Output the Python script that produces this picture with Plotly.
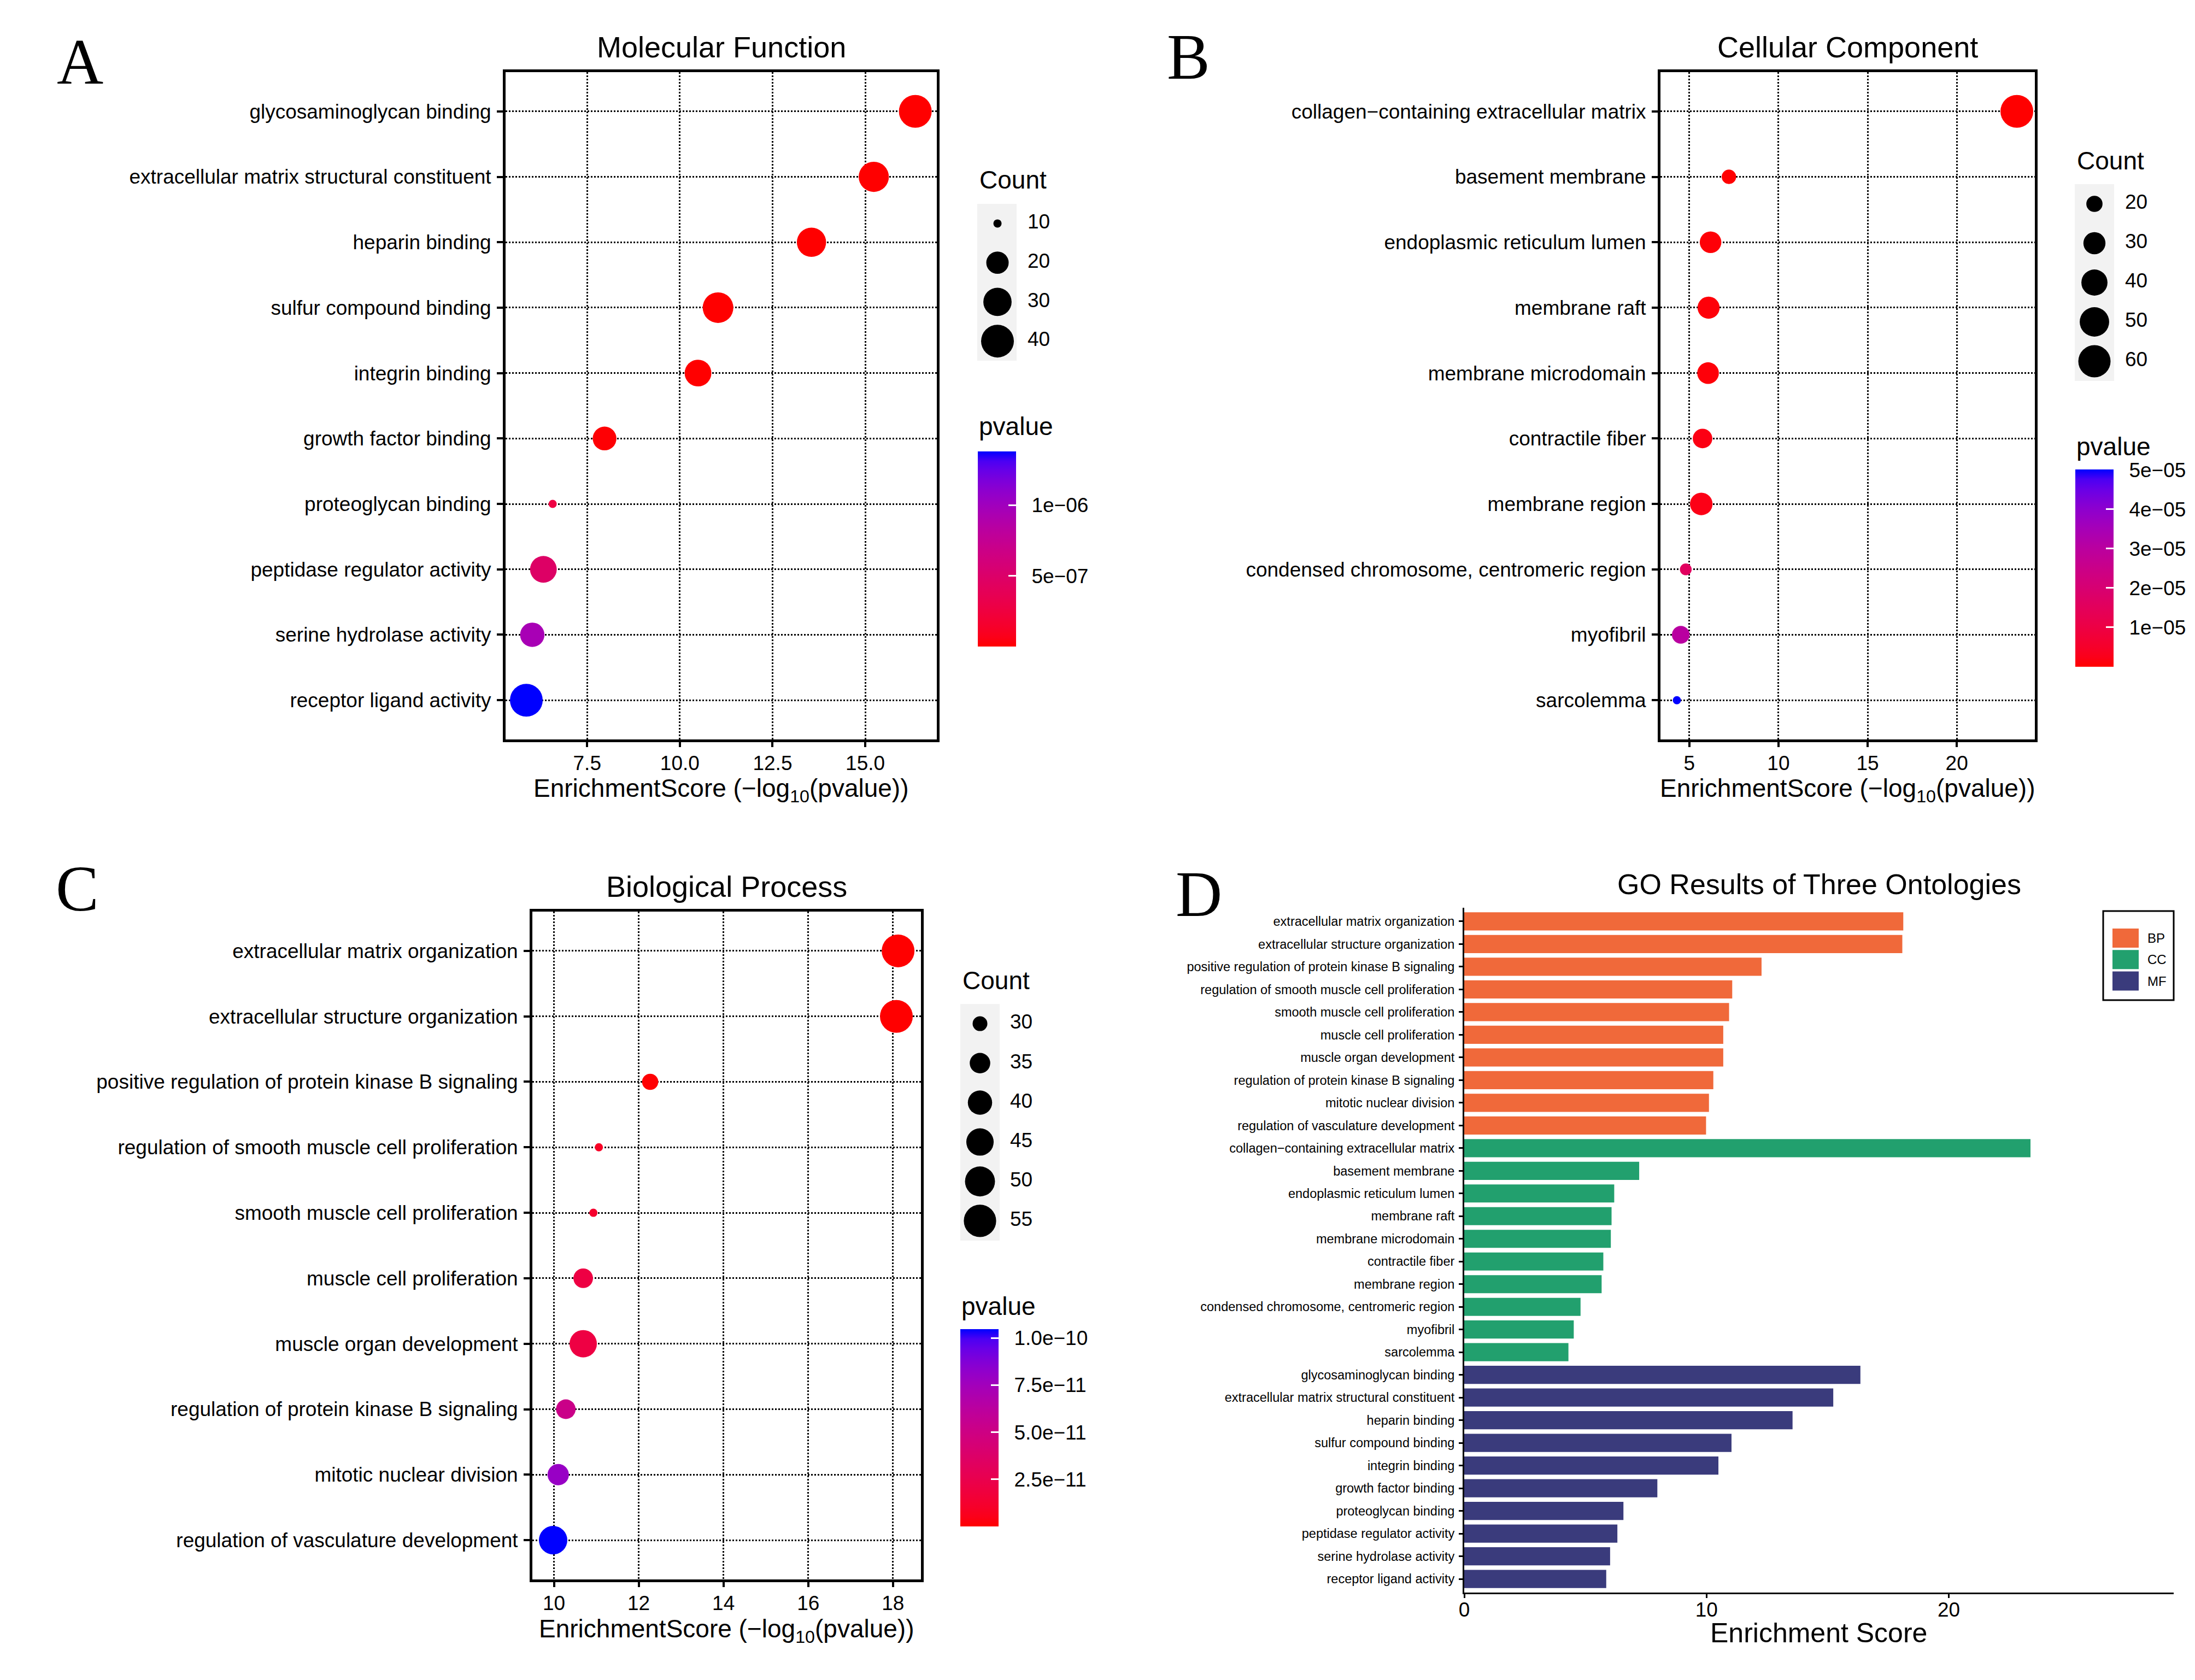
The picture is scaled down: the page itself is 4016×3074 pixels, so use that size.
import numpy as np
import plotly.graph_objects as go

# ---- data ----------------------------------------------------------------
mf_terms = ["glycosaminoglycan binding", "extracellular matrix structural constituent",
            "heparin binding", "sulfur compound binding", "integrin binding",
            "growth factor binding", "proteoglycan binding", "peptidase regulator activity",
            "serine hydrolase activity", "receptor ligand activity"]
mf_score = [16.35, 15.23, 13.55, 11.03, 10.49, 7.97, 6.57, 6.32, 6.02, 5.86]
mf_count = [40, 34, 32, 35, 27, 22, 10, 27, 23, 40]

cc_terms = ["collagen\u2212containing extracellular matrix", "basement membrane",
            "endoplasmic reticulum lumen", "membrane raft", "membrane microdomain",
            "contractile fiber", "membrane region", "condensed chromosome, centromeric region",
            "myofibril", "sarcolemma"]
cc_score = [23.37, 7.22, 6.19, 6.08, 6.05, 5.74, 5.67, 4.80, 4.52, 4.30]
cc_count = [62, 18, 29, 30, 29, 25, 31, 16, 22, 15]

bp_terms = ["extracellular matrix organization", "extracellular structure organization",
            "positive regulation of protein kinase B signaling",
            "regulation of smooth muscle cell proliferation", "smooth muscle cell proliferation",
            "muscle cell proliferation", "muscle organ development",
            "regulation of protein kinase B signaling", "mitotic nuclear division",
            "regulation of vasculature development"]
bp_score = [18.12, 18.08, 12.27, 11.06, 10.93, 10.69, 10.69, 10.28, 10.10, 9.98]
bp_count = [56, 56, 31, 28, 28, 34, 45, 34, 36, 47]

# legend breaks / tick labels
mf_size_breaks = [10, 20, 30, 40]
cc_size_breaks = [20, 30, 40, 50, 60]
bp_size_breaks = [30, 35, 40, 45, 50, 55]

mf_p_ticks = [5e-7, 1e-6]
mf_p_labels = ["5e\u221207", "1e\u221206"]
cc_p_ticks = [1e-5, 2e-5, 3e-5, 4e-5, 5e-5]
cc_p_labels = ["1e\u221205", "2e\u221205", "3e\u221205", "4e\u221205", "5e\u221205"]
bp_p_ticks = [2.5e-11, 5e-11, 7.5e-11, 1e-10]
bp_p_labels = ["2.5e\u221211", "5.0e\u221211", "7.5e\u221211", "1.0e\u221210"]

mf_xticks = [7.5, 10, 12.5, 15]
mf_xlabels = ["7.5", "10.0", "12.5", "15.0"]
cc_xticks = [5, 10, 15, 20]
bp_xticks = [10, 12, 14, 16, 18]
go_xticks = [0, 10, 20]

ontologies = ["BP", "CC", "MF"]
onto_colors = {"BP": "#F0693A", "CC": "#22A06E", "MF": "#3A3B7C"}

# ---- helpers ---------------------------------------------------------------
W, H = 4016, 3074
SANS = "Liberation Sans, Arial, Helvetica, sans-serif"
SERIF = "Liberation Serif, Times New Roman, serif"
NB = "\u00a0\u00a0"  # gap between colour bar and its labels


def fx(p):
    return p / W


def fy(p):
    return 1 - p / H


M = np.array([[0.4124564, 0.3575761, 0.1804375],
              [0.2126729, 0.7151522, 0.0721750],
              [0.0193339, 0.1191920, 0.9503041]])
WHITE = np.array([0.95047, 1.0, 1.08883])


def to_lab(rgb):
    c = np.array(rgb) / 255.0
    lin = np.where(c <= 0.04045, c / 12.92, ((c + 0.055) / 1.055) ** 2.4)
    xyz = M @ lin / WHITE
    d = 6 / 29
    f = np.where(xyz > d ** 3, np.cbrt(xyz), xyz / (3 * d * d) + 4 / 29)
    return np.array([116 * f[1] - 16, 500 * (f[0] - f[1]), 200 * (f[1] - f[2])])


def from_lab(lab):
    L, a, b = lab
    f1 = (L + 16) / 116
    d = 6 / 29
    inv = lambda t: t ** 3 if t > d else 3 * d * d * (t - 4 / 29)
    xyz = np.array([inv(f1 + a / 500), inv(f1), inv(f1 - b / 200)]) * WHITE
    lin = np.clip(np.linalg.inv(M) @ xyz, 0, 1)
    c = np.where(lin <= 0.0031308, 12.92 * lin, 1.055 * lin ** (1 / 2.4) - 0.055)
    r, g, bb = [int(round(v * 255)) for v in np.clip(c, 0, 1)]
    return f"rgb({r},{g},{bb})"


# ggplot-like red -> blue gradient (interpolated in Lab)
lo_lab, hi_lab = to_lab((255, 0, 0)), to_lab((0, 0, 255))
red_blue = [[t, from_lab(lo_lab + (hi_lab - lo_lab) * t)] for t in np.linspace(0, 1, 21)]


def dot_size(vals, lo, hi):
    # area palette like scale_size: range of diameters in px
    t = np.clip((np.array(vals, float) - lo) / (hi - lo), 0, 1)
    return 15 + 45 * np.sqrt(t)


fig = go.Figure()
annotations = []
shapes = []
layout = {}

panels = [
    dict(letter="A", title="Molecular Function", terms=mf_terms, score=mf_score, count=mf_count,
         breaks=mf_size_breaks, pt=mf_p_ticks, pl=mf_p_labels, xt=mf_xticks, xl=mf_xlabels,
         box=(925, 1714, 132, 1353), xr=[5.30, 16.93], letter_xy=(102, 113),
         leg=dict(x0=1788, x1=1860, y0=373, y1=660, key=1825, lab=1880, title=(1790, 329)),
         cb=dict(x=1789, y=826, len=357, title=(1789, 780))),
    dict(letter="B", title="Cellular Component", terms=cc_terms, score=cc_score, count=cc_count,
         breaks=cc_size_breaks, pt=cc_p_ticks, pl=cc_p_labels, xt=cc_xticks, xl=[str(v) for v in cc_xticks],
         box=(3038, 3723, 132, 1353), xr=[3.38, 24.38], letter_xy=(2133, 105),
         leg=dict(x0=3796, x1=3868, y0=337, y1=697, key=3832, lab=3888, title=(3798, 294)),
         cb=dict(x=3797, y=859, len=361, title=(3797, 817))),
    dict(letter="C", title="Biological Process", terms=bp_terms, score=bp_score, count=bp_count,
         breaks=bp_size_breaks, pt=bp_p_ticks, pl=bp_p_labels, xt=bp_xticks, xl=[str(v) for v in bp_xticks],
         box=(974, 1685, 1668, 2890), xr=[9.49, 18.66], letter_xy=(100, 1626),
         leg=dict(x0=1757, x1=1829, y0=1837, y1=2270, key=1793, lab=1848, title=(1759, 1794)),
         cb=dict(x=1757, y=2432, len=361, title=(1757, 2390))),
]

axis_style = dict(showline=True, mirror=True, linewidth=5, linecolor="black",
                  showgrid=True, gridcolor="black", griddash="dot", gridwidth=2.5,
                  ticks="outside", ticklen=9, tickwidth=4, tickcolor="black",
                  zeroline=False, tickfont=dict(family=SANS, size=37, color="black"))
hidden = dict(visible=False, showgrid=False, zeroline=False, fixedrange=True)

for i, p in enumerate(panels):
    k = i + 1
    ax = "" if k == 1 else str(k)
    lk = str(k + 4)  # legend axes 5,6,7
    ca = "coloraxis" + ("" if k == 1 else str(k))
    x0, x1, y0, y1 = p["box"]
    n = len(p["terms"])
    # p-value from the enrichment score (score = -log10 p)
    pvals = [10 ** (-s) for s in p["score"]]
    lo, hi = min(p["count"]), max(p["count"])

    fig.add_trace(go.Scatter(
        x=p["score"], y=p["terms"], mode="markers", showlegend=False,
        marker=dict(size=dot_size(p["count"], lo, hi), color=pvals, coloraxis=ca,
                    line=dict(width=0), opacity=1),
        xaxis="x" + ax, yaxis="y" + ax, cliponaxis=False))

    layout["xaxis" + ax] = dict(axis_style, domain=[fx(x0), fx(x1)], range=p["xr"],
                                anchor="y" + ax, tickvals=p["xt"], ticktext=p["xl"],
                                ticklabelstandoff=-2)
    layout["yaxis" + ax] = dict(axis_style, domain=[fy(y1), fy(y0)], type="category",
                                categoryorder="array", categoryarray=p["terms"],
                                range=[n - 1 + 0.6, -0.6], anchor="x" + ax,
                                ticklen=11, ticklabelstandoff=3)

    cb = p["cb"]
    layout[ca] = dict(colorscale=red_blue, colorbar=dict(
        x=fx(cb["x"]), xanchor="left", xpad=0, y=fy(cb["y"]), yanchor="top", ypad=0,
        len=cb["len"], lenmode="pixels", thickness=70, thicknessmode="pixels",
        outlinewidth=0, ticks="inside", ticklen=14, tickwidth=3, tickcolor="white",
        tickvals=p["pt"], ticktext=[NB + s for s in p["pl"]],
        tickfont=dict(family=SANS, size=37, color="black")))

    # size legend
    lg = p["leg"]
    nb = len(p["breaks"])
    shapes.append(dict(type="rect", xref="paper", yref="paper", x0=fx(lg["x0"]), x1=fx(lg["x1"]),
                       y0=fy(lg["y1"]), y1=fy(lg["y0"]), fillcolor="#F2F2F2",
                       line=dict(width=0), layer="below"))
    layout["xaxis" + lk] = dict(hidden, domain=[fx(lg["x0"] - 10), fx(lg["x0"] + 190)],
                                range=[lg["x0"] - 10, lg["x0"] + 190], anchor="y" + lk)
    layout["yaxis" + lk] = dict(hidden, domain=[fy(lg["y1"]), fy(lg["y0"])],
                                range=[nb - 0.5, -0.5], anchor="x" + lk)
    fig.add_trace(go.Scatter(
        x=[lg["key"]] * nb, y=list(range(nb)), mode="markers", showlegend=False,
        marker=dict(size=dot_size(p["breaks"], lo, hi), color="black", opacity=1,
                    line=dict(width=0)),
        xaxis="x" + lk, yaxis="y" + lk, hoverinfo="skip", cliponaxis=False))
    fig.add_trace(go.Scatter(
        x=[lg["lab"]] * nb, y=list(range(nb)), mode="text", showlegend=False,
        text=[str(b) for b in p["breaks"]], textposition="middle right",
        textfont=dict(family=SANS, size=37, color="black"),
        xaxis="x" + lk, yaxis="y" + lk, hoverinfo="skip", cliponaxis=False))

    annotations += [
        dict(text=p["title"], x=fx((x0 + x1) / 2), y=fy(y0 - 46), xanchor="center", yanchor="middle",
             font=dict(family=SANS, size=54, color="black")),
        dict(text="EnrichmentScore (\u2212log<sub>10</sub>(pvalue))", x=fx((x0 + x1) / 2),
             y=fy(y1 + 93), xanchor="center", yanchor="middle",
             font=dict(family=SANS, size=46, color="black")),
        dict(text=p["letter"], x=fx(p["letter_xy"][0]), y=fy(p["letter_xy"][1]),
             xanchor="left", yanchor="middle", font=dict(family=SERIF, size=118, color="black")),
        dict(text="Count", x=fx(lg["title"][0]), y=fy(lg["title"][1]), xanchor="left",
             yanchor="middle", font=dict(family=SANS, size=46, color="black")),
        dict(text="pvalue", x=fx(cb["title"][0]), y=fy(cb["title"][1]), xanchor="left",
             yanchor="middle", font=dict(family=SANS, size=46, color="black")),
    ]

# ---- panel D: bar chart of the three ontologies ----------------------------
groups = {"BP": (bp_terms, bp_score), "CC": (cc_terms, cc_score), "MF": (mf_terms, mf_score)}
all_terms = bp_terms + cc_terms + mf_terms
for o in ontologies:
    t, s = groups[o]
    fig.add_trace(go.Bar(x=s, y=t, orientation="h", width=0.8, name=o, showlegend=False,
                         marker=dict(color=onto_colors[o], line=dict(width=0)),
                         xaxis="x4", yaxis="y4"))

dx0, dx1, dy0, dy1 = 2679, 3977, 1661, 2914
layout["xaxis4"] = dict(domain=[fx(dx0), fx(dx1)], range=[0, 29.28], anchor="y4",
                        tickvals=go_xticks, showline=True, linewidth=3, linecolor="black",
                        ticks="outside", ticklen=7, tickwidth=3, tickcolor="black",
                        showgrid=False, zeroline=False, ticklabelstandoff=-10,
                        tickfont=dict(family=SANS, size=37, color="black"))
layout["yaxis4"] = dict(domain=[fy(dy1), fy(dy0)], type="category", categoryorder="array",
                        categoryarray=all_terms, range=[len(all_terms) - 1 + 0.6, -0.6],
                        anchor="x4", showline=True, linewidth=3, linecolor="black",
                        ticks="outside", ticklen=7, tickwidth=3, tickcolor="black",
                        showgrid=False, zeroline=False, ticklabelstandoff=3,
                        tickfont=dict(family=SANS, size=23.5, color="black"))

# legend box for D
shapes.append(dict(type="rect", xref="paper", yref="paper", x0=fx(3848), x1=fx(3977),
                   y0=fy(1830), y1=fy(1667), fillcolor="white", line=dict(color="black", width=3)))
for j, o in enumerate(ontologies):
    top = 1699 + j * 39.3
    shapes.append(dict(type="rect", xref="paper", yref="paper", x0=fx(3865), x1=fx(3913),
                       y0=fy(top + 35), y1=fy(top), fillcolor=onto_colors[o], line=dict(width=0)))
    annotations.append(dict(text=o, x=fx(3927), y=fy(top + 17.5), xanchor="left", yanchor="middle",
                            font=dict(family=SANS, size=24, color="black")))

annotations += [
    dict(text="GO Results of Three Ontologies", x=fx(3328), y=fy(1618), xanchor="center",
         yanchor="middle", font=dict(family=SANS, size=52, color="black")),
    dict(text="Enrichment Score", x=fx(3327), y=fy(2988), xanchor="center", yanchor="middle",
         font=dict(family=SANS, size=50, color="black")),
    dict(text="D", x=fx(2149), y=fy(1636), xanchor="left", yanchor="middle",
         font=dict(family=SERIF, size=118, color="black")),
]
for a in annotations:
    a.update(xref="paper", yref="paper", showarrow=False)

fig.update_layout(width=W, height=H, margin=dict(l=0, r=0, t=0, b=0),
                  paper_bgcolor="white", plot_bgcolor="white", template="none",
                  font=dict(family=SANS, color="black"), annotations=annotations,
                  shapes=shapes, bargap=0.2, **layout)

# drop the page's default body margin so the figure sits at the window origin
fig.write_html("out.html", config={"displayModeBar": False},
               post_script="document.body.style.margin='0px';")
